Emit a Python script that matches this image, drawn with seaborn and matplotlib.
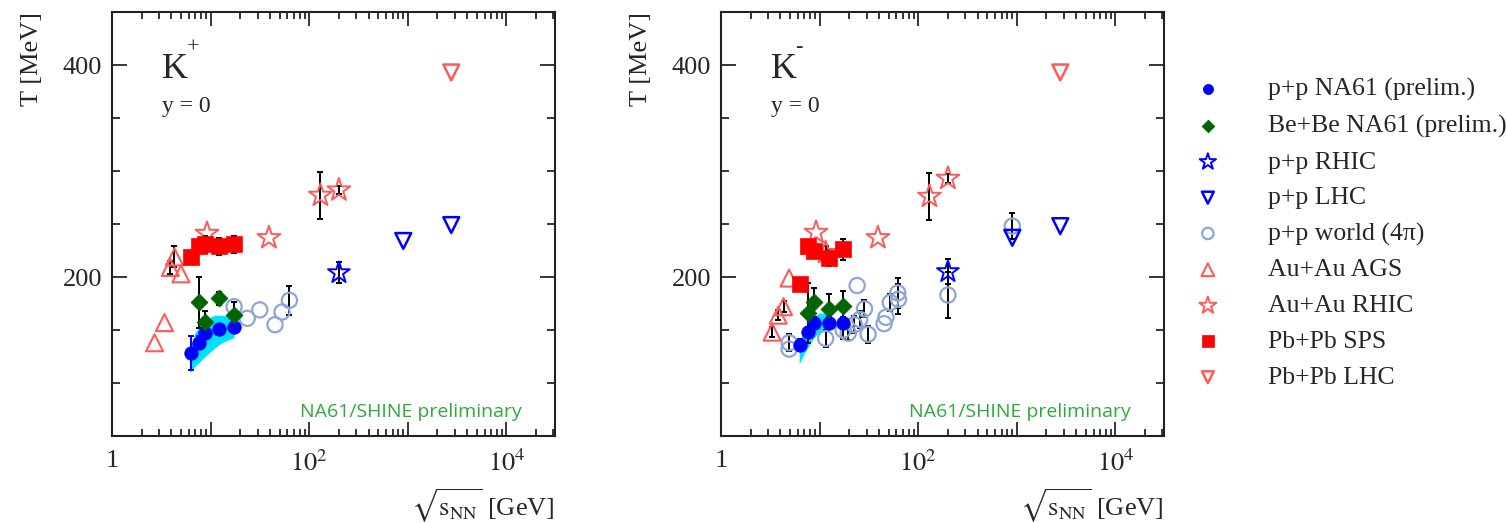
import numpy as np
import matplotlib
matplotlib.use("Agg")
import matplotlib.pyplot as plt
import seaborn as sns
from matplotlib.ticker import LogLocator, MultipleLocator, FuncFormatter, NullFormatter

# ---------------- data: K+ panel ----------------
kp_na61_pp_x = [6.3, 7.7, 8.8, 12.3, 17.3]
kp_na61_pp_T = [128, 138, 147, 151, 153]
kp_na61_pp_err = [16, 6, 5, 4, 5]
kp_band_x = [6.2, 7.0, 8.8, 11.0, 13.0, 17.3]
kp_band_lo = [110, 116, 125, 133, 138, 143]
kp_band_hi = [134, 148, 160, 164, 164, 162]
kp_bebe_x = [7.7, 8.8, 12.3, 17.3]
kp_bebe_T = [176, 158, 180, 164]
kp_bebe_err = [24, 10, 6, 12]
kp_pp_rhic_x = [200]
kp_pp_rhic_T = [204]
kp_pp_rhic_err = [10]
kp_pp_lhc_x = [900, 2760]
kp_pp_lhc_T = [234, 249]
kp_pp_world_x = [17.3, 23.5, 31.5, 45, 53, 63]
kp_pp_world_T = [172, 161, 169, 155, 167, 178]
kp_pp_world_err = [0, 0, 0, 0, 0, 14]
kp_auau_ags_x = [2.7, 3.4, 3.9, 4.3, 5.0]
kp_auau_ags_T = [138, 157, 209, 219, 203]
kp_auau_ags_err = [0, 0, 6, 10, 0]
kp_auau_rhic_x = [9.2, 39, 130, 200]
kp_auau_rhic_T = [241, 237, 277, 282]
kp_auau_rhic_err = [0, 0, 22, 4]
kp_pbpb_sps_x = [6.3, 7.6, 8.8, 12.3, 17.3]
kp_pbpb_sps_T = [219, 229, 231, 229, 231]
kp_pbpb_sps_err = [0, 5, 8, 8, 8]
kp_pbpb_lhc_x = [2760]
kp_pbpb_lhc_T = [393]

# ---------------- data: K- panel ----------------
km_na61_pp_x = [6.3, 7.7, 8.8, 12.3, 17.3]
km_na61_pp_T = [136, 148, 157, 157, 157]
km_na61_pp_err = [6, 5, 5, 5, 5]
km_band_x = [6.2, 7.0, 8.0, 8.8, 10.0, 12.3]
km_band_lo = [118, 128, 137, 143, 148, 152]
km_band_hi = [138, 150, 158, 163, 166, 166]
km_bebe_x = [7.7, 8.8, 12.3, 17.3]
km_bebe_T = [166, 176, 170, 173]
km_bebe_err = [28, 14, 14, 14]
km_pp_rhic_x = [200]
km_pp_rhic_T = [205]
km_pp_rhic_err = [12]
km_pp_lhc_x = [900, 2760]
km_pp_lhc_T = [237, 248]
km_pp_world_x = [4.9, 4.9, 11.5, 17.3, 19.5, 22.5, 24, 25.5, 28.5, 31, 45, 47, 52, 62, 63, 200, 900]
km_pp_world_T = [138, 132, 142, 150, 147, 155, 192, 160, 170, 146, 156, 162, 176, 185, 179, 183, 248]
km_pp_world_err = [8, 0, 8, 8, 6, 8, 0, 8, 8, 8, 0, 0, 8, 14, 14, 22, 12]
km_auau_ags_x = [3.3, 3.8, 4.3, 4.9]
km_auau_ags_T = [148, 164, 172, 199]
km_auau_ags_err = [5, 5, 5, 0]
km_auau_rhic_x = [9.2, 11.5, 39, 130, 200]
km_auau_rhic_T = [242, 223, 237, 276, 293]
km_auau_rhic_err = [0, 6, 0, 22, 4]
km_pbpb_sps_x = [6.3, 7.6, 8.8, 12.3, 17.3]
km_pbpb_sps_T = [193, 229, 225, 218, 226]
km_pbpb_sps_err = [6, 6, 6, 8, 10]
km_pbpb_lhc_x = [2760]
km_pbpb_lhc_T = [393]

legend_labels = ["p+p NA61 (prelim.)", "Be+Be NA61 (prelim.)", "p+p RHIC", "p+p LHC",
                 "p+p world (4\u03c0)", "Au+Au AGS", "Au+Au RHIC", "Pb+Pb SPS", "Pb+Pb LHC"]

# ---------------- style ----------------
sns.set_style("ticks")
plt.rcParams["font.family"] = ["Liberation Serif", "DejaVu Serif"]
plt.rcParams["mathtext.fontset"] = "stix"
plt.rcParams.update({
    "xtick.direction": "in", "ytick.direction": "in",
    "xtick.top": True, "ytick.right": True,
    "xtick.major.size": 10, "xtick.minor.size": 5,
    "ytick.major.size": 11, "ytick.minor.size": 6,
    "xtick.major.width": 1.3, "xtick.minor.width": 1.3,
    "ytick.major.width": 1.3, "ytick.minor.width": 1.3,
    "axes.linewidth": 1.5, "axes.edgecolor": "#222222",
})

C_BLUE = "#0000ff"
C_GREEN = "#006400"
C_WORLD = "#8ea6d6"
C_PINK = "#ff5a5a"
C_RED = "#ff0000"
C_BAND = "#00e1ff"

fig = plt.figure(figsize=(15.06, 5.23), dpi=100)
ax1 = fig.add_axes([0.0744, 0.1663, 0.294, 0.8107])
ax2 = fig.add_axes([0.4788, 0.1663, 0.294, 0.8107])


def errs(ax, x, y, e, color="k"):
    x = np.asarray(x, float)
    y = np.asarray(y, float)
    e = np.asarray(e, float)
    m = e > 0
    if m.any():
        ax.errorbar(x[m], y[m], yerr=e[m], fmt="none", ecolor=color, elinewidth=1.4,
                    capsize=2.5, capthick=1.4, zorder=2)


def scat(ax, x, y, marker, size, color, filled, label, lw=1.4):
    if filled:
        sns.scatterplot(x=x, y=y, ax=ax, marker=marker, s=size, color=color,
                        edgecolor=color, linewidth=0.5, label=label, zorder=3, legend=False)
    else:
        sns.scatterplot(x=x, y=y, ax=ax, marker=marker, s=size, color=color,
                        facecolor="none", edgecolor=color, linewidth=lw, label=label,
                        zorder=3, legend=False)


def panel(ax, d, name, sup):
    ax.fill_between(d["band_x"], d["band_lo"], d["band_hi"], color=C_BAND, lw=0, zorder=1)
    errs(ax, d["na61_x"], d["na61_T"], d["na61_e"], C_BLUE)
    errs(ax, d["bebe_x"], d["bebe_T"], d["bebe_e"])
    errs(ax, d["rhic_x"], d["rhic_T"], d["rhic_e"])
    errs(ax, d["world_x"], d["world_T"], d["world_e"])
    errs(ax, d["ags_x"], d["ags_T"], d["ags_e"])
    errs(ax, d["aurhic_x"], d["aurhic_T"], d["aurhic_e"])
    errs(ax, d["sps_x"], d["sps_T"], d["sps_e"])

    scat(ax, d["world_x"], d["world_T"], "o", 120, C_WORLD, False, legend_labels[4], 1.6)
    scat(ax, d["na61_x"], d["na61_T"], "o", 95, C_BLUE, True, legend_labels[0])
    scat(ax, d["bebe_x"], d["bebe_T"], "D", 75, C_GREEN, True, legend_labels[1])
    scat(ax, d["rhic_x"], d["rhic_T"], "*", 270, C_BLUE, False, legend_labels[2], 1.4)
    scat(ax, d["lhc_x"], d["lhc_T"], "v", 130, C_BLUE, False, legend_labels[3], 1.8)
    scat(ax, d["ags_x"], d["ags_T"], "^", 150, C_PINK, False, legend_labels[5], 1.5)
    scat(ax, d["aurhic_x"], d["aurhic_T"], "*", 300, C_PINK, False, legend_labels[6], 1.4)
    scat(ax, d["sps_x"], d["sps_T"], "s", 120, C_RED, True, legend_labels[7])
    scat(ax, d["pblhc_x"], d["pblhc_T"], "v", 130, C_PINK, False, legend_labels[8], 1.8)

    ax.set_xscale("log")
    ax.set_xlim(1, 3.1e4)
    ax.set_ylim(50, 450)
    ax.xaxis.set_major_locator(LogLocator(base=10, numticks=10))
    ax.xaxis.set_minor_locator(LogLocator(base=10, subs=np.arange(2, 10), numticks=20))
    labs = {1: "1", 100: r"$10^{2}$", 10000: r"$10^{4}$"}

    def fmt(v, pos):
        for k, s in labs.items():
            if abs(v - k) / k < 1e-6:
                return s
        return ""
    ax.xaxis.set_major_formatter(FuncFormatter(fmt))
    ax.xaxis.set_minor_formatter(NullFormatter())
    ax.yaxis.set_major_locator(MultipleLocator(200))
    ax.yaxis.set_minor_locator(MultipleLocator(50))
    ax.tick_params(axis="both", which="both", labelsize=19)
    ax.tick_params(axis="x", which="major", pad=10)
    ax.tick_params(axis="y", which="major", pad=7)
    ax.set_xlabel(r"$\sqrt{\mathrm{s}_{\mathrm{NN}}}$ [GeV]", fontsize=19, loc="right", labelpad=8)
    ax.set_ylabel("T [MeV]", fontsize=19, loc="top", labelpad=14)
    ax.text(0.113, 0.844, name, transform=ax.transAxes, fontsize=26, va="baseline")
    ax.text(0.168, 0.905, sup, transform=ax.transAxes, fontsize=16, va="baseline")
    ax.text(0.113, 0.764, "y = 0", transform=ax.transAxes, fontsize=17, va="baseline")
    ax.text(0.925, 0.057, "NA61/SHINE preliminary", transform=ax.transAxes, fontsize=14,
            color="#2eaa3a", ha="right", va="center", family=["Open Sans", "DejaVu Sans"])


kp = dict(band_x=kp_band_x, band_lo=kp_band_lo, band_hi=kp_band_hi,
          na61_x=kp_na61_pp_x, na61_T=kp_na61_pp_T, na61_e=kp_na61_pp_err,
          bebe_x=kp_bebe_x, bebe_T=kp_bebe_T, bebe_e=kp_bebe_err,
          rhic_x=kp_pp_rhic_x, rhic_T=kp_pp_rhic_T, rhic_e=kp_pp_rhic_err,
          lhc_x=kp_pp_lhc_x, lhc_T=kp_pp_lhc_T,
          world_x=kp_pp_world_x, world_T=kp_pp_world_T, world_e=kp_pp_world_err,
          ags_x=kp_auau_ags_x, ags_T=kp_auau_ags_T, ags_e=kp_auau_ags_err,
          aurhic_x=kp_auau_rhic_x, aurhic_T=kp_auau_rhic_T, aurhic_e=kp_auau_rhic_err,
          sps_x=kp_pbpb_sps_x, sps_T=kp_pbpb_sps_T, sps_e=kp_pbpb_sps_err,
          pblhc_x=kp_pbpb_lhc_x, pblhc_T=kp_pbpb_lhc_T)
km = dict(band_x=km_band_x, band_lo=km_band_lo, band_hi=km_band_hi,
          na61_x=km_na61_pp_x, na61_T=km_na61_pp_T, na61_e=km_na61_pp_err,
          bebe_x=km_bebe_x, bebe_T=km_bebe_T, bebe_e=km_bebe_err,
          rhic_x=km_pp_rhic_x, rhic_T=km_pp_rhic_T, rhic_e=km_pp_rhic_err,
          lhc_x=km_pp_lhc_x, lhc_T=km_pp_lhc_T,
          world_x=km_pp_world_x, world_T=km_pp_world_T, world_e=km_pp_world_err,
          ags_x=km_auau_ags_x, ags_T=km_auau_ags_T, ags_e=km_auau_ags_err,
          aurhic_x=km_auau_rhic_x, aurhic_T=km_auau_rhic_T, aurhic_e=km_auau_rhic_err,
          sps_x=km_pbpb_sps_x, sps_T=km_pbpb_sps_T, sps_e=km_pbpb_sps_err,
          pblhc_x=km_pbpb_lhc_x, pblhc_T=km_pbpb_lhc_T)

panel(ax1, kp, "K", "+")
panel(ax2, km, "K", "-")

handles, labels = ax1.get_legend_handles_labels()
hmap = dict(zip(labels, handles))
leg = fig.legend([hmap[l] for l in legend_labels], legend_labels, loc="center left",
                 bbox_to_anchor=(0.7935, 0.5535), frameon=False, fontsize=18.5,
                 handlelength=1.0, handletextpad=1.85, labelspacing=0.5,
                 borderpad=0, borderaxespad=0, markerscale=0.75)

fig.savefig("out.png", dpi=100)
